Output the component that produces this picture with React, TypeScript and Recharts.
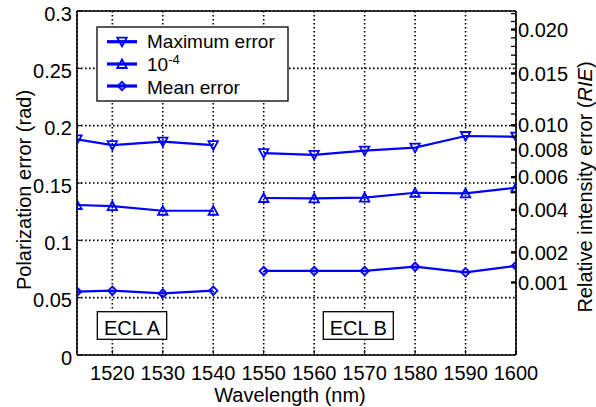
import React from 'react';
import { LineChart, Line, XAxis, YAxis, CartesianGrid, ReferenceLine } from 'recharts';

// ---- data ----
const wavelengthsA = [1513, 1520, 1530, 1540];
const wavelengthsB = [1550, 1560, 1570, 1580, 1590, 1600];
const maxErrorA = [0.188, 0.183, 0.186, 0.183];
const maxErrorB = [0.176, 0.1745, 0.1782, 0.1808, 0.191, 0.1904];
const tenMinus4A = [0.1308, 0.1299, 0.1258, 0.1258];
const tenMinus4B = [0.1369, 0.1366, 0.1373, 0.1415, 0.141, 0.1459];
const meanErrorA = [0.0552, 0.0561, 0.0537, 0.0561];
const meanErrorB = [0.0733, 0.0733, 0.0733, 0.077, 0.0721, 0.0778];

const xTicks = [1520, 1530, 1540, 1550, 1560, 1570, 1580, 1590, 1600];
const leftTicks = [0, 0.05, 0.1, 0.15, 0.2, 0.25, 0.3];
const leftTickLabels = ['0', '0.05', '0.1', '0.15', '0.2', '0.25', '0.3'];
const rieMajorTicks = [0.001, 0.002, 0.004, 0.006, 0.008, 0.01, 0.015, 0.02];
const rieMajorLabels = ['0.001', '0.002', '0.004', '0.006', '0.008', '0.010', '0.015', '0.020'];
const rieMinorTicks = [0.003, 0.005, 0.007, 0.009, 0.011, 0.012, 0.013, 0.014, 0.016, 0.017, 0.018, 0.019, 0.021, 0.022];

const legendLabels = ['Maximum error', '10', 'Mean error'];
const eclLabels = ['ECL A', 'ECL B'];

// ---- helpers ----
const BLUE = '#0000ff';
const FONT = '"Liberation Sans", Arial, sans-serif';
const FS = 20;
const LFS = 19;

// RIE -> polarization error (rad): RIE = (1 - cos θ) / 2
const rieToRad = (r: number) => Math.acos(1 - 2 * r);

const rightTicks = [
  ...rieMajorTicks.map((r, i) => ({ pos: rieToRad(r), label: rieMajorLabels[i], major: true })),
  ...rieMinorTicks.map((r) => ({ pos: rieToRad(r), label: '', major: false })),
].sort((a, b) => a.pos - b.pos);

const build = (xs: number[], ys: number[]) => xs.map((x, i) => ({ wl: x, v: ys[i] }));
const dataMaxA = build(wavelengthsA, maxErrorA);
const dataMaxB = build(wavelengthsB, maxErrorB);
const dataT4A = build(wavelengthsA, tenMinus4A);
const dataT4B = build(wavelengthsB, tenMinus4B);
const dataMeanA = build(wavelengthsA, meanErrorA);
const dataMeanB = build(wavelengthsB, meanErrorB);

const downTri = (cx: number, cy: number) =>
  `M${cx - 4.7},${cy - 4} L${cx + 4.7},${cy - 4} L${cx},${cy + 4.7} Z`;
const upTri = (cx: number, cy: number) =>
  `M${cx - 4.7},${cy + 4} L${cx + 4.7},${cy + 4} L${cx},${cy - 4.7} Z`;
const diamond = (cx: number, cy: number) =>
  `M${cx},${cy - 4.2} L${cx + 4.2},${cy} L${cx},${cy + 4.2} L${cx - 4.2},${cy} Z`;

const makeDot = (shape: (cx: number, cy: number) => string) => (props: any) => {
  const { cx, cy, index } = props;
  if (cx == null || cy == null) return <g key={index} />;
  return <path key={index} d={shape(cx, cy)} fill="none" stroke={BLUE} strokeWidth={1.8} />;
};

const XTick = (props: any) => {
  const { x, y, payload } = props;
  return (
    <g>
      <line x1={x} y1={y} x2={x} y2={y - 5} stroke="#000" strokeWidth={1} />
      <text x={x} y={y + 25} textAnchor="middle" fontSize={FS} fontFamily={FONT} fill="#000">
        {payload.value}
      </text>
    </g>
  );
};

const LeftTick = (props: any) => {
  const { x, y, payload } = props;
  const idx = leftTicks.findIndex((t) => Math.abs(t - payload.value) < 1e-9);
  return (
    <g>
      <line x1={x} y1={y} x2={x + 5} y2={y} stroke="#000" strokeWidth={1} />
      <text x={x - 5} y={y + 9.5} textAnchor="end" fontSize={FS} fontFamily={FONT} fill="#000">
        {idx >= 0 ? leftTickLabels[idx] : ''}
      </text>
    </g>
  );
};

const RightTick = (props: any) => {
  const { x, y, payload } = props;
  let best = rightTicks[0];
  for (const t of rightTicks) {
    if (Math.abs(t.pos - payload.value) < Math.abs(best.pos - payload.value)) best = t;
  }
  return (
    <g>
      <line x1={x - 5} y1={y} x2={x} y2={y} stroke="#000" strokeWidth={best.major ? 2.4 : 1.3} />
      {best.major && (
        <text x={x + 2} y={y + 7.2} textAnchor="start" fontSize={FS} fontFamily={FONT} fill="#000">
          {best.label}
        </text>
      )}
    </g>
  );
};

export default function App() {
  return (
    <div style={{ position: 'absolute', left: 0, top: 0, width: 596, height: 407, background: '#fff' }}>
      <LineChart width={596} height={407} margin={{ top: 11, right: 0, left: 0, bottom: 0 }}>
        <CartesianGrid
          yAxisId="left"
          stroke="#000"
          strokeWidth={1.6}
          strokeDasharray="1.6 2.4"
        />
        <XAxis
          dataKey="wl"
          type="number"
          domain={[1513, 1600]}
          ticks={xTicks}
          interval={0}
          allowDataOverflow
          height={52}
          tickSize={0}
          tickMargin={0}
          tickLine={false}
          axisLine={{ stroke: '#000', strokeWidth: 1.6 }}
          tick={<XTick />}
        />
        <YAxis
          yAxisId="left"
          orientation="left"
          type="number"
          domain={[0, 0.3]}
          ticks={leftTicks}
          interval={0}
          width={77}
          tickSize={0}
          tickMargin={0}
          tickLine={false}
          axisLine={{ stroke: '#000', strokeWidth: 1.6 }}
          tick={<LeftTick />}
        />
        <YAxis
          yAxisId="right"
          orientation="right"
          type="number"
          domain={[0, 0.3]}
          allowDataOverflow
          ticks={rightTicks.map((t) => t.pos)}
          interval={0}
          width={80}
          tickSize={0}
          tickMargin={0}
          tickLine={false}
          axisLine={{ stroke: '#000', strokeWidth: 1.6 }}
          tick={<RightTick />}
        />
        <ReferenceLine yAxisId="left" y={0.3} stroke="#000" strokeWidth={1.6} />
        <Line yAxisId="right" data={dataMeanA} dataKey="v" stroke="none" strokeWidth={0} dot={false} activeDot={false} legendType="none" isAnimationActive={false} />
        <Line yAxisId="left" data={dataMaxA} dataKey="v" stroke={BLUE} strokeWidth={2.2} dot={makeDot(downTri)} isAnimationActive={false} />
        <Line yAxisId="left" data={dataMaxB} dataKey="v" stroke={BLUE} strokeWidth={2.2} dot={makeDot(downTri)} isAnimationActive={false} />
        <Line yAxisId="left" data={dataT4A} dataKey="v" stroke={BLUE} strokeWidth={2.2} dot={makeDot(upTri)} isAnimationActive={false} />
        <Line yAxisId="left" data={dataT4B} dataKey="v" stroke={BLUE} strokeWidth={2.2} dot={makeDot(upTri)} isAnimationActive={false} />
        <Line yAxisId="left" data={dataMeanA} dataKey="v" stroke={BLUE} strokeWidth={2.2} dot={makeDot(diamond)} isAnimationActive={false} />
        <Line yAxisId="left" data={dataMeanB} dataKey="v" stroke={BLUE} strokeWidth={2.2} dot={makeDot(diamond)} isAnimationActive={false} />
      </LineChart>
      <svg
        width={596}
        height={407}
        style={{ position: 'absolute', left: 0, top: 0, pointerEvents: 'none' }}
        fontFamily={FONT}
      >
        {/* axis titles */}
        <text
          transform="translate(31,190) rotate(-90)"
          textAnchor="middle"
          fontSize={FS}
          fill="#000"
        >
          Polarization error (rad)
        </text>
        <text
          transform="translate(592,187) rotate(-90)"
          textAnchor="middle"
          fontSize={FS}
          fill="#000"
        >
          Relative intensity error (<tspan fontStyle="italic">RIE</tspan>)
        </text>
        <text x={290} y={402} textAnchor="middle" fontSize={FS} fill="#000">
          Wavelength (nm)
        </text>

        {/* legend */}
        <rect x={97} y={27} width={191} height={74} fill="#fff" stroke="#000" strokeWidth={1.3} />
        <line x1={107} y1={41.7} x2={137} y2={41.7} stroke={BLUE} strokeWidth={3.2} />
        <path d={downTri(122, 41.7)} fill="none" stroke={BLUE} strokeWidth={1.8} />
        <text x={147} y={48} fontSize={LFS} fill="#000">{legendLabels[0]}</text>
        <line x1={107} y1={64} x2={137} y2={64} stroke={BLUE} strokeWidth={3.2} />
        <path d={upTri(122, 64)} fill="none" stroke={BLUE} strokeWidth={1.8} />
        <text x={147} y={71} fontSize={LFS} fill="#000">
          {legendLabels[1]}
          <tspan dy={-7} fontSize={13}>-4</tspan>
        </text>
        <line x1={107} y1={86} x2={137} y2={86} stroke={BLUE} strokeWidth={3.2} />
        <path d={diamond(122, 86)} fill="none" stroke={BLUE} strokeWidth={1.8} />
        <text x={147} y={93.5} fontSize={LFS} fill="#000">{legendLabels[2]}</text>

        {/* ECL boxes */}
        <rect x={97.3} y={311.7} width={69.4} height={27.6} fill="#fff" stroke="#000" strokeWidth={1.3} />
        <text x={132} y={334.5} textAnchor="middle" fontSize={FS} fill="#000">{eclLabels[0]}</text>
        <rect x={323.3} y={311.7} width={70} height={27.6} fill="#fff" stroke="#000" strokeWidth={1.3} />
        <text x={358.3} y={334.5} textAnchor="middle" fontSize={FS} fill="#000">{eclLabels[1]}</text>
      </svg>
    </div>
  );
}
